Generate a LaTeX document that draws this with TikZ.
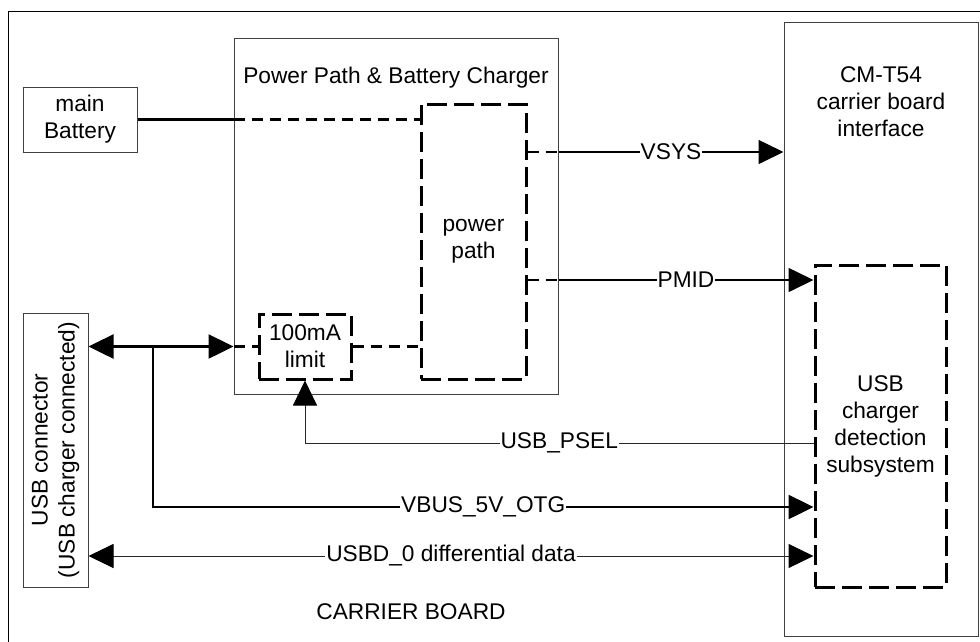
\documentclass[tikz,border=0pt]{standalone}
\usepackage{fontspec}
\setmainfont{Liberation Sans}
\usetikzlibrary{arrows.meta, positioning, calc}

\tikzset{
  box/.style={draw=black!75, line width=1pt, inner sep=0pt, align=center},
  dbox/.style={draw, line width=3pt, dash pattern=on 20pt off 7pt, inner sep=0pt, align=center},
  pwr/.style={line width=2.5pt},
  sig/.style={line width=1.6pt},
  ctl/.style={draw=black!85, line width=1pt},
  dline/.style={line width=2.5pt, dash pattern=on 11pt off 7pt},
  lbl/.style={fill=white, inner sep=1pt}
}

\begin{document}
\begin{tikzpicture}[x=1pt, y=-1pt, font=\fontsize{22.7}{27}\selectfont,
    >={Triangle[length=25pt, width=24pt, color=black]}]
  \useasboundingbox (0,0) rectangle (980,641);

  % Carrier board
  \draw[line width=1pt] (8,11) rectangle (995,660);
  \node (board) at (411,612) {CARRIER BOARD};

  % Blocks
  \node[box, minimum width=114pt, minimum height=65pt] (battery) at (80,119.5) {main\\Battery};
  \node[box, minimum width=324pt, minimum height=356pt] (charger) at (396,216) {};
  \node (chargertitle) at (396,78) {Power Path \& Battery Charger};
  \node[dbox, minimum width=105pt, minimum height=275pt] (pathbox) at (473.5,241.5) {power\\path};
  \node[dbox, minimum width=92pt, minimum height=65pt] (limit) at (305,346.5) {100mA\\limit};
  \node[box, minimum width=194pt, minimum height=614pt] (cm) at (881,329) {};
  \node[align=center, inner sep=0pt] (cmtitle) at (881,102) {CM-T54\\carrier board\\interface};
  \node[dbox, minimum width=131pt, minimum height=322pt] (detect) at (880.5,426) {USB\\charger\\detection\\subsystem};
  \node[box, minimum width=65pt, minimum height=274pt] (usb) at (55.5,450) {};
  \node[align=center, rotate=90] (usbtext) at (usb.center) {USB connector\\(USB charger connected)};

  % Battery input
  \draw[pwr] (battery.east) -- (battery.east -| charger.west) coordinate (batin);
  \draw[dline] (batin) -- (batin -| pathbox.west);

  % Outputs
  \draw[dline] (pathbox.east |- 0,152) -- (charger.east |- 0,152) coordinate (vsysb);
  \draw[sig, ->] (vsysb) -- node[lbl] {VSYS} (vsysb -| cm.west);
  \draw[dline] (pathbox.east |- 0,280) -- (charger.east |- 0,280) coordinate (pmidb);
  \draw[sig, ->] (pmidb) -- node[lbl] {PMID} (pmidb -| detect.west);

  % USB power
  \draw[pwr, <->] (usb.east |- limit.west) -- (charger.west |- limit.west) coordinate (usbin);
  \draw[dline] (usbin) -- (limit.west);
  \draw[dline] (limit.east) -- (limit.east -| pathbox.west);
  \draw[pwr, ->] (153,0 |- limit.west) |- node[lbl, pos=0.75] {VBUS\_5V\_OTG} (detect.west |- 0,507);

  % Control and data
  \draw[ctl, ->] (detect.west |- 0,443) -- node[lbl] {USB\_PSEL} (limit.south |- 0,443) -- (limit.south);
  \draw[ctl, <->] (usb.east |- 0,556) -- node[lbl] {USBD\_0 differential data} (detect.west |- 0,556);
\end{tikzpicture}
\end{document}
